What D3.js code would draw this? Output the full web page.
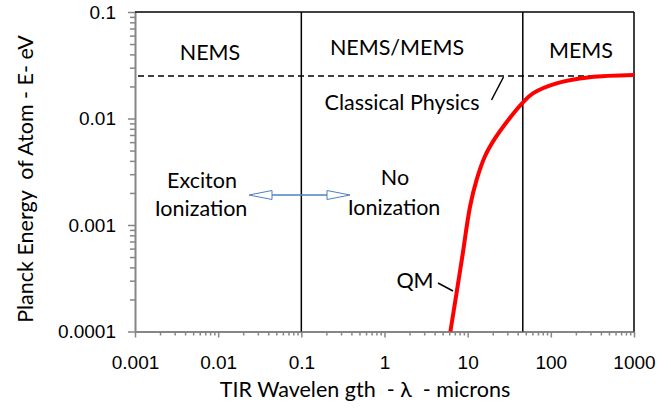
<!DOCTYPE html>
<html>
<head>
<meta charset="utf-8">
<script src="https://cdn.jsdelivr.net/npm/d3@7.9.0/dist/d3.min.js"></script>
<style>
  body { margin: 0; background: #fff; }
  svg { display: block; font-family: Lato, "Open Sans", sans-serif; }
</style>
</head>
<body>
<svg id="chart" width="671" height="409"></svg>
<script>
// tick labels
const xTicks = [0.001, 0.01, 0.1, 1, 10, 100, 1000];
const xTickLabels = ['0.001', '0.01', '0.1', '1', '10', '100', '1000'];
const yTicks = [0.0001, 0.001, 0.01, 0.1];
const yTickLabels = ['0.0001', '0.001', '0.01', '0.1'];

// planck energy curve
const wavelength = [6.2, 8.5, 10.7, 12.8, 16.1, 21.3, 30.8, 46, 61.5, 117, 295, 1000];
const energy = [0.0001, 0.00047, 0.0015, 0.00265, 0.0044, 0.0065, 0.0097, 0.0141, 0.0173, 0.0214, 0.0244, 0.0256];

// region boundaries (microns) and classical kT level (eV)
const boundaries = [0.1, 46, 1000];
const classicalLevel = 0.025;

const svg = d3.select('#chart');
const plotLeft = 135, plotRight = 634, plotTop = 12, plotBottom = 331.5;

const x = d3.scaleLog().domain([0.001, 1000]).range([plotLeft, plotRight]);
const y = d3.scaleLog().domain([0.0001, 0.1]).range([plotBottom, plotTop]);

const minor = (lo, hi) => {
  let out = [];
  for (let p = Math.log10(lo); p < Math.log10(hi) - 0.5; p++) {
    for (let k = 1; k < 10; k++) out.push(k * Math.pow(10, p));
  }
  out.push(hi);
  return out;
};

const isMajor = (list, d) => list.some((t) => Math.abs(t - d) / t < 1e-6);
const axisColor = '#868686';

// x axis
const xAxis = svg.append('g')
  .attr('transform', `translate(0,${plotBottom})`)
  .call(d3.axisBottom(x)
    .tickValues(minor(0.001, 1000))
    .tickSize(6)
    .tickSizeOuter(0)
    .tickFormat((d) => {
      let i = xTicks.findIndex((t) => Math.abs(t - d) / t < 1e-6);
      return i >= 0 ? xTickLabels[i] : '';
    }));

xAxis.select('.domain').attr('stroke', axisColor).attr('stroke-width', 2);
xAxis.selectAll('.tick line')
  .attr('stroke', axisColor)
  .attr('stroke-width', 1.5)
  .attr('y2', (d) => isMajor(xTicks, d) ? 6 : 4);
xAxis.selectAll('.tick text')
  .attr('y', 24)
  .attr('fill', '#000')
  .style('font-size', '19px');

// y axis
const yAxis = svg.append('g')
  .attr('transform', `translate(${plotLeft},0)`)
  .call(d3.axisLeft(y)
    .tickValues(minor(0.0001, 0.1))
    .tickSize(6)
    .tickSizeOuter(0)
    .tickFormat((d) => {
      let i = yTicks.findIndex((t) => Math.abs(t - d) / t < 1e-6);
      return i >= 0 ? yTickLabels[i] : '';
    }));

yAxis.select('.domain').attr('stroke', axisColor).attr('stroke-width', 2);
yAxis.selectAll('.tick line')
  .attr('stroke', axisColor)
  .attr('stroke-width', 1.5)
  .attr('x2', (d) => isMajor(yTicks, d) ? -7 : -5);
yAxis.selectAll('.tick text')
  .attr('x', -19)
  .attr('fill', '#000')
  .style('font-size', '19px');

// top border
svg.append('line')
  .attr('x1', plotLeft).attr('x2', plotRight)
  .attr('y1', plotTop).attr('y2', plotTop)
  .attr('stroke', '#000').attr('stroke-width', 1.5);

// region boundaries
svg.selectAll('.boundary')
  .data(boundaries)
  .join('line')
  .attr('class', 'boundary')
  .attr('x1', (d) => x(d)).attr('x2', (d) => x(d))
  .attr('y1', plotTop).attr('y2', plotBottom)
  .attr('stroke', '#000').attr('stroke-width', 1.5);

// classical physics level
svg.append('line')
  .attr('x1', plotLeft + 3).attr('x2', plotRight)
  .attr('y1', y(classicalLevel)).attr('y2', y(classicalLevel))
  .attr('stroke', '#000').attr('stroke-width', 1.5)
  .attr('stroke-dasharray', '6,4');

// planck curve
const line = d3.line()
  .x((d) => x(d[0]))
  .y((d) => y(d[1]))
  .curve(d3.curveCatmullRom.alpha(0.5));

svg.append('path')
  .datum(wavelength.map((w, i) => [w, energy[i]]))
  .attr('d', line)
  .attr('fill', 'none')
  .attr('stroke', '#ff0000')
  .attr('stroke-width', 4);

// labels
const label = (txt, px, py) => svg.append('text')
  .attr('x', px).attr('y', py)
  .attr('text-anchor', 'middle')
  .style('font-size', '21.5px')
  .text(txt);

label('NEMS', 210, 60);
label('NEMS/MEMS', 397, 55);
label('MEMS', 581, 58);
label('Classical Physics', 402, 110);
label('Exciton', 202, 188);
label('Ionization', 201, 216);
label('No', 395, 185);
label('Ionization', 394, 215);
label('QM', 415, 288);

// leader lines
svg.append('line')
  .attr('x1', 491.5).attr('y1', 100).attr('x2', 503.5).attr('y2', 77)
  .attr('stroke', '#000').attr('stroke-width', 1.5);
svg.append('line')
  .attr('x1', 438).attr('y1', 283).attr('x2', 453).attr('y2', 291)
  .attr('stroke', '#000').attr('stroke-width', 1.5);

// double arrow
const arrowColor = '#4f7fbf';
svg.append('line')
  .attr('x1', 271).attr('x2', 328).attr('y1', 195).attr('y2', 195)
  .attr('stroke', arrowColor).attr('stroke-width', 1.5);
svg.append('path')
  .attr('d', 'M249,195 L272,190.5 L272,199.5 Z')
  .attr('fill', '#fff').attr('stroke', arrowColor).attr('stroke-width', 1);
svg.append('path')
  .attr('d', 'M350,195 L327,190.5 L327,199.5 Z')
  .attr('fill', '#fff').attr('stroke', arrowColor).attr('stroke-width', 1);

// axis titles
svg.append('text')
  .attr('x', 365).attr('y', 397)
  .attr('text-anchor', 'middle')
  .attr('xml:space', 'preserve')
  .style('font-size', '21.5px')
  .text('TIR Wavelen gth  - \u03bb  - microns');

svg.append('text')
  .attr('transform', 'translate(33,179) rotate(-90)')
  .attr('text-anchor', 'middle')
  .attr('xml:space', 'preserve')
  .style('font-size', '21.5px')
  .text('Planck Energy  of Atom - E- eV');
</script>
</body>
</html>
